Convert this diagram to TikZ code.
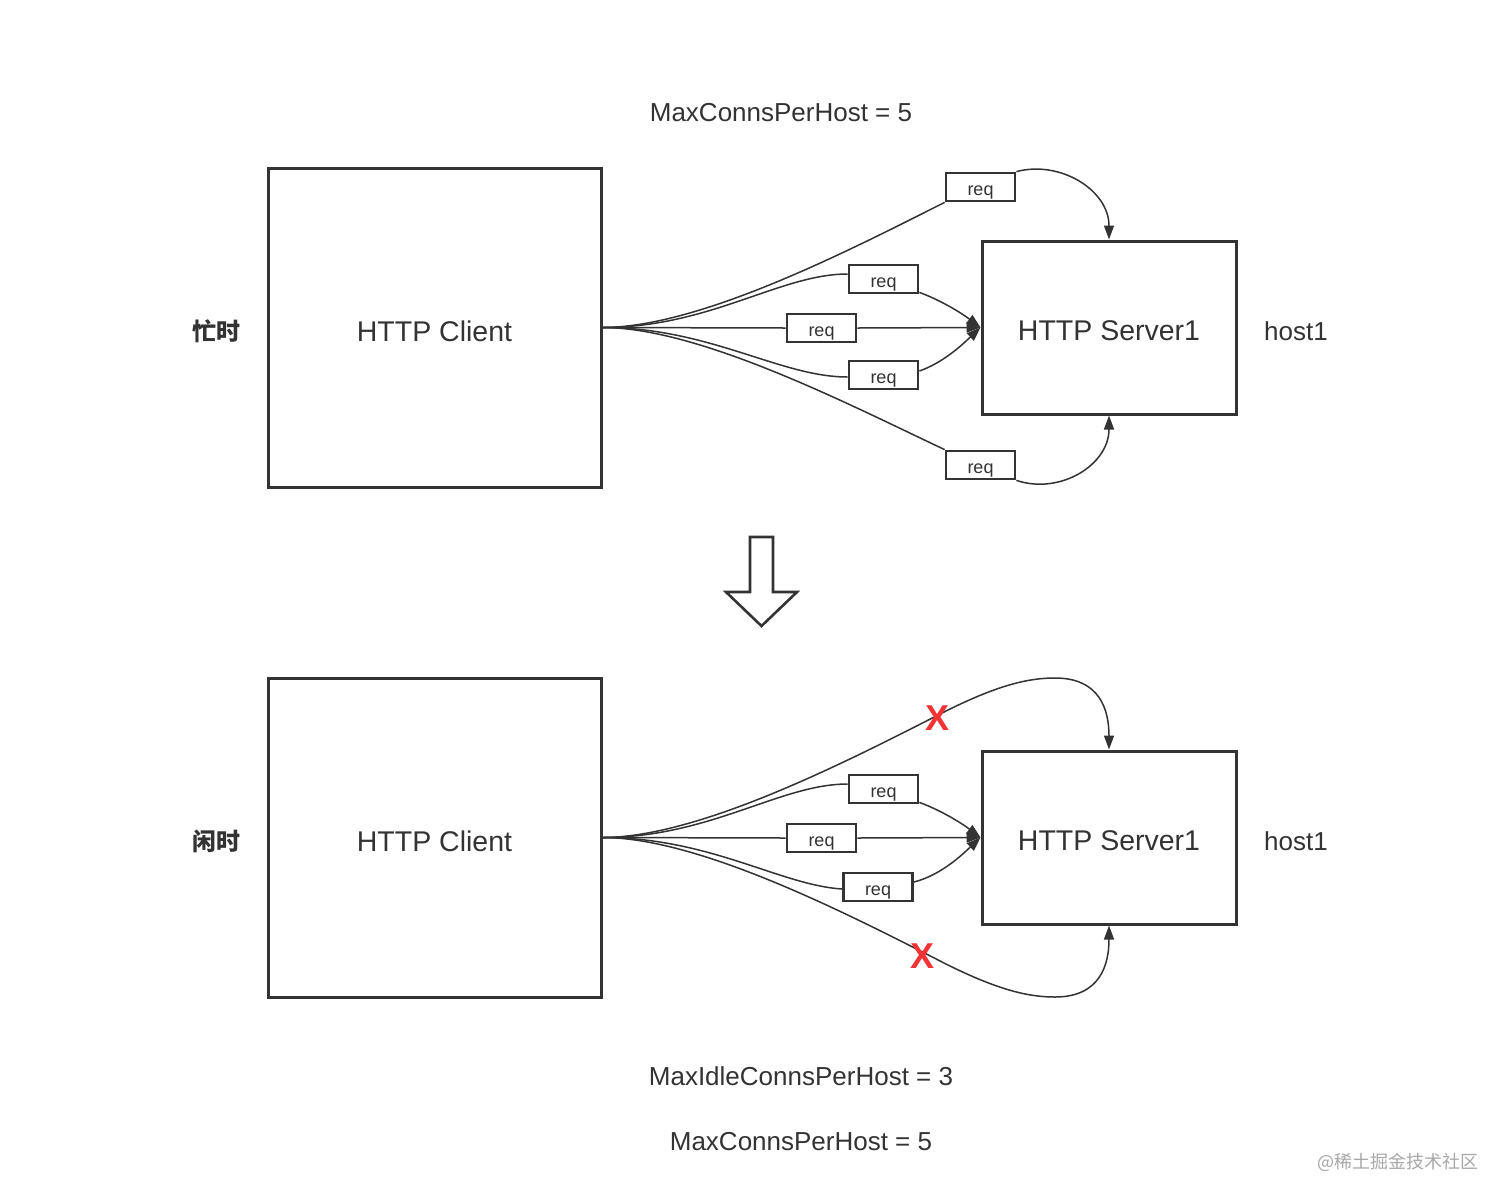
\documentclass[tikz,border=0pt]{standalone}
\usepackage{fontspec}
\setmainfont{Liberation Sans}
\newfontfamily\cjk{Noto Sans CJK SC}
\usetikzlibrary{arrows.meta}
\definecolor{ink}{HTML}{333333}
\definecolor{xred}{HTML}{F23333}
\definecolor{wm}{HTML}{A8A8A8}
\tikzset{
  bigbox/.style={draw=ink, line width=3pt, inner sep=0pt},
  bigtext/.style={text=ink, font=\fontsize{28.5}{32}\selectfont},
  reqbox/.style={draw=ink, line width=2.8pt, inner sep=0pt, minimum width=69pt, minimum height=28pt,
    text height=17pt, text depth=0pt, font=\fontsize{18}{20}\selectfont, text=ink},
  conn/.style={draw=ink, line width=1.5pt},
  arr/.style={conn, -{Triangle[length=14pt,width=10pt]}},
  lbl/.style={text=ink, font=\fontsize{26}{30}\selectfont},
  side/.style={text=ink, font=\cjk\bfseries\fontsize{24}{28}\selectfont},
  xmark/.style={text=xred, font=\bfseries\fontsize{36}{40}\selectfont},
}
\begin{document}
\begin{tikzpicture}[x=1pt,y=-1pt]
\useasboundingbox (0,0) rectangle (1512,1203);
\fill[white] (0,0) rectangle (1512,1203);

% ---------- top (busy) ----------
\node[lbl] (t1) at (781,113) {MaxConnsPerHost = 5};
\node[side] (busy) at (216,331) {忙时};
\node[bigbox, minimum width=333pt, minimum height=319pt] (c1) at (434.5,327.5) {};
\node[bigtext] (c1t) at (434.5,331) {HTTP Client};
\node[bigbox, minimum width=254pt, minimum height=173pt] (s1) at (1109,327.5) {};
\node[bigtext] (s1t) at (1109,331) {HTTP Server1};
\node[lbl] (h1) at (1296,331) {host1};

\node[reqbox] (a1) at (980.5,187) {req};
\node[reqbox] (a2) at (883.5,279) {req};
\node[reqbox] (a3) at (821.5,328) {req};
\node[reqbox] (a4) at (883.5,375) {req};
\node[reqbox] (a5) at (980.5,465) {req};

\draw[conn] (c1.east) .. controls (700,327.5) and (850,250) .. (a1.south west);
\draw[arr] (a1.north east) .. controls (1060,160) and (1109,190) .. (s1.north);
\draw[conn] (c1.east) .. controls (710,327.5) and (780,274) .. ([yshift=5pt]a2.west);
\draw[arr] ([yshift=2pt]a2.south east) .. controls (940,300) and (960,312) .. (s1.west);
\draw[conn] (c1.east) -- (a3.west);
\draw[arr] (a3.east) -- (s1.west);
\draw[conn] (c1.east) .. controls (710,327.5) and (780,377) .. ([yshift=-2pt]a4.west);
\draw[arr] ([yshift=4pt]a4.east) .. controls (945,362) and (965,342) .. (s1.west);
\draw[conn] (c1.east) .. controls (700,327.5) and (850,405) .. (a5.north west);
\draw[arr] (a5.south east) .. controls (1060,495) and (1109,465) .. (s1.south);

% ---------- down arrow ----------
\draw[draw=ink, line width=2.6pt, line join=miter, fill=white]
  (750,537) -- (773,537) -- (773,592) -- (797,592) -- (761.5,626) -- (726,592) -- (750,592) -- cycle;

% ---------- bottom (idle) ----------
\node[side] (idle) at (216,841) {闲时};
\node[bigbox, minimum width=333pt, minimum height=319pt] (c2) at (434.5,837.5) {};
\node[bigtext] (c2t) at (434.5,841) {HTTP Client};
\node[bigbox, minimum width=254pt, minimum height=173pt] (s2) at (1109,837.5) {};
\node[bigtext] (s2t) at (1109,841) {HTTP Server1};
\node[lbl] (h2) at (1296,841) {host1};

\node[reqbox] (b2) at (883.5,789) {req};
\node[reqbox] (b3) at (821.5,838) {req};
\node[reqbox] (b4) at (878,887) {req};

\coordinate (u1) at (946,711);
\coordinate (u2) at (1055,678);
\coordinate (d1) at (946,964);
\coordinate (d2) at (1055,997);

\draw[conn] (c2.east) .. controls (700,837.5) and (850,760) .. (u1)
  .. controls (1000,684) and (1030,678) .. (u2);
\draw[arr] (u2) .. controls (1100,678) and (1109,710) .. (s2.north);
\draw[conn] (c2.east) .. controls (710,837.5) and (780,784) .. ([yshift=5pt]b2.west);
\draw[arr] ([yshift=2pt]b2.south east) .. controls (940,810) and (960,822) .. (s2.west);
\draw[conn] (c2.east) -- (b3.west);
\draw[arr] (b3.east) -- (s2.west);
\draw[conn] (c2.east) .. controls (710,837.5) and (780,885) .. ([yshift=-2pt]b4.west);
\draw[arr] ([yshift=5pt]b4.east) .. controls (942,875) and (965,852) .. (s2.west);
\draw[conn] (c2.east) .. controls (700,837.5) and (850,915) .. (d1)
  .. controls (1000,991) and (1030,997) .. (d2);
\draw[arr] (d2) .. controls (1100,997) and (1109,965) .. (s2.south);

\node[xmark] (x1) at (937,718) {X};
\node[xmark] (x2) at (922,956) {X};

\node[lbl] (t2) at (801,1076) {MaxIdleConnsPerHost = 3};
\node[lbl] (t3) at (801,1142) {MaxConnsPerHost = 5};

\node[text=wm, font=\cjk\fontsize{18}{20}\selectfont, anchor=east] (wmk) at (1482,1162) {@稀土掘金技术社区};
\end{tikzpicture}
\end{document}
